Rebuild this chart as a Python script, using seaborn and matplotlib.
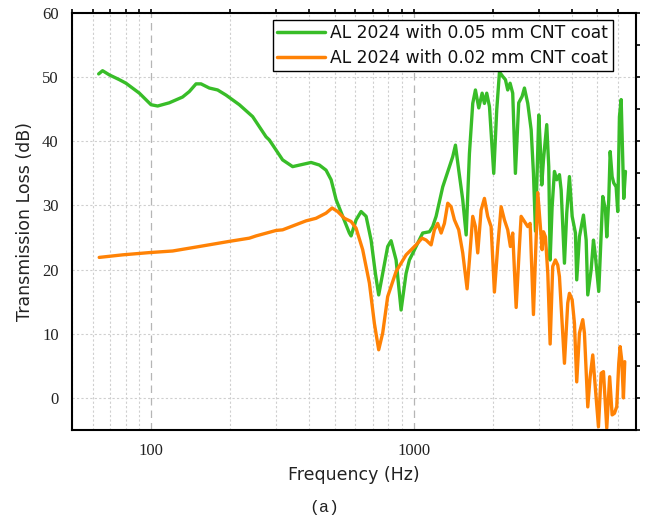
import numpy as np
import pandas as pd
import matplotlib
matplotlib.use("Agg")
import matplotlib.pyplot as plt
from matplotlib.ticker import FixedLocator, NullFormatter, FixedFormatter, MultipleLocator
import seaborn as sns

# Transmission loss of AL 2024 plates with two CNT coating thicknesses
freq_005 = [63.2, 65.4, 69.4, 75.8, 80.3, 90.3, 100, 106, 117.4, 131.9, 139.9, 148.4,
            155, 166.7, 179.3, 193, 216.9, 243.7, 274.1, 282.2, 317, 346.1, 406.8,
            437.4, 463.8, 484.9, 506.6, 536.7, 569, 577.6, 603.5, 630.6, 658.9, 688.4,
            714.8, 735.8, 762, 796.2, 820.2, 857, 895.4, 935.5, 963, 1021, 1082, 1148,
            1181, 1217, 1290, 1368, 1408, 1442, 1484, 1537, 1584, 1630, 1678, 1718,
            1769, 1822, 1859, 1897, 1943, 2017, 2071, 2121, 2183, 2235, 2280, 2328,
            2382, 2439, 2511, 2587, 2640, 2718, 2800, 2857, 2908, 2993, 3038, 3073,
            3119, 3210, 3267, 3307, 3365, 3434, 3504, 3588, 3642, 3749, 3825, 3916,
            4011, 4128, 4175, 4275, 4429, 4535, 4599, 4738, 4835, 4920, 5064, 5245,
            5370, 5432, 5528, 5597, 5694, 5775, 5897, 5981, 6071, 6163, 6250, 6305, 6400]
tl_005 = [50.5, 51.0, 50.35, 49.6, 49.05, 47.5, 45.7, 45.5, 46.0, 46.9, 47.75, 48.95,
          48.95, 48.3, 48.0, 47.2, 45.7, 43.85, 40.7, 40.2, 37.1, 36.05, 36.7,
          36.3, 35.5, 34.0, 30.9, 28.3, 25.7, 25.25, 27.75, 29.05, 28.3, 24.6,
          19.4, 16.05, 19.4, 23.6, 24.5, 21.5, 13.7, 19.4, 21.5, 23.6, 25.7, 25.9,
          26.7, 28.3, 32.9, 36.05, 37.6, 39.4, 35.5, 30.9, 25.4, 38.1, 45.9, 48.0,
          45.2, 47.5, 45.9, 47.5, 45.4, 35.0, 44.9, 50.8, 50.1, 49.6, 48.0, 49.05,
          47.5, 35.0, 46.0, 47.0, 48.3, 45.9, 41.8, 35.0, 26.0, 44.1, 38.7, 33.2,
          37.1, 42.6, 36.05, 21.5, 29.8, 35.3, 34.0, 34.8, 32.4, 21.0, 28.8, 34.5,
          28.3, 25.7, 18.4, 25.1, 28.5, 24.6, 16.05, 20.0, 24.6, 22.0, 16.6, 31.4,
          29.3, 25.1, 30.9, 38.4, 34.5, 33.5, 32.9, 29.05, 43.85, 46.5, 37.1, 31.1, 35.3]

freq_002 = [63.5, 78, 98.5, 120.9, 152.7, 198.7, 236.8, 251.1, 299.2, 317, 336.2,
            389.3, 424.9, 463.8, 489.1, 513.7, 544.6, 577.6, 603.5, 639.5, 678.2,
            708.6, 735.8, 762, 796.2, 857, 935.5, 1021, 1076, 1115, 1165, 1199, 1234,
            1272, 1309, 1348, 1388, 1429, 1484, 1537, 1597, 1630, 1678, 1718, 1753,
            1806, 1859, 1913, 1971, 2029, 2089, 2152, 2215, 2280, 2334, 2382, 2455,
            2526, 2564, 2640, 2718, 2775, 2857, 2967, 3083, 3119, 3174, 3240, 3307,
            3383, 3464, 3535, 3588, 3749, 3859, 3916, 4011, 4093, 4175, 4275, 4402,
            4467, 4599, 4696, 4805, 4877, 5051, 5172, 5277, 5432, 5572, 5694, 5811,
            5929, 6034, 6109, 6194, 6287, 6360]
tl_002 = [21.9, 22.3, 22.65, 22.9, 23.6, 24.4, 24.9, 25.25, 26.1, 26.2, 26.6,
          27.6, 28.0, 28.8, 29.6, 29.05, 28.0, 27.5, 26.45, 23.1, 17.9,
          11.6, 7.5, 10.1, 15.8, 19.7, 22.3, 23.85, 24.9, 24.6, 23.85, 26.2, 27.2,
          25.7, 27.2, 30.35, 29.8, 27.75, 26.2, 22.6, 17.0, 21.5, 28.3, 26.7, 22.6,
          29.3, 31.1, 28.3, 26.7, 16.5, 23.6, 29.8, 27.75, 26.2, 23.6, 25.7, 14.1,
          23.6, 28.3, 27.5, 26.7, 27.2, 13.0, 32.0, 23.1, 25.9, 25.1, 19.4, 8.4,
          20.5, 21.5, 20.7, 18.9, 5.4, 14.8, 16.3, 15.3, 11.6, 2.5, 10.1, 12.2,
          10.1, -1.4, 3.3, 6.7, 3.3, -4.5, 3.85, 4.1, -4.7, 3.3, -2.65, -2.4,
          -1.35, 5.4, 8.0, 5.9, 0.0, 5.65]

series_names = ["AL 2024 with 0.05 mm CNT coat", "AL 2024 with 0.02 mm CNT coat"]
series_colors = ["#38BD28", "#FF8205"]

x_major = [100, 1000]
x_major_labels = ["100", "1000"]
x_minor = [50, 60, 70, 80, 90, 200, 300, 400, 500, 600, 700, 800, 900,
           2000, 3000, 4000, 5000, 6000]
y_major = [0, 10, 20, 30, 40, 50, 60]

df = pd.concat([
    pd.DataFrame({"freq": freq_005, "tl": tl_005, "series": series_names[0]}),
    pd.DataFrame({"freq": freq_002, "tl": tl_002, "series": series_names[1]}),
], ignore_index=True)

sns.set_theme(style="white")
plt.rcParams["font.family"] = ["DejaVu Sans"]

fig = plt.figure(figsize=(6.48, 5.19), dpi=100)
ax = fig.add_axes([0.111, 0.1715, 0.870, 0.8035])

sns.lineplot(data=df, x="freq", y="tl", hue="series", hue_order=series_names,
             palette=series_colors, estimator=None, sort=False, linewidth=2.4,
             ax=ax)

ax.set_xscale("log")
ax.set_xlim(50, 7000)
ax.set_ylim(-5, 60)

ax.xaxis.set_major_locator(FixedLocator(x_major))
ax.xaxis.set_major_formatter(FixedFormatter(x_major_labels))
ax.xaxis.set_minor_locator(FixedLocator(x_minor))
ax.xaxis.set_minor_formatter(NullFormatter())
ax.yaxis.set_major_locator(FixedLocator(y_major))
ax.yaxis.set_minor_locator(MultipleLocator(5))

# grid: dashed at decades, dotted elsewhere
ax.grid(which="major", axis="x", color="#b5b5b5", linestyle=(0, (6, 4)), linewidth=0.9)
ax.grid(which="minor", axis="x", color="#cfcfcf", linestyle=(0, (2, 2)), linewidth=0.8)
ax.grid(which="major", axis="y", color="#cfcfcf", linestyle=(0, (2, 2)), linewidth=0.8)
ax.set_axisbelow(True)

for side in ["left", "bottom", "top", "right"]:
    ax.spines[side].set_visible(True)
    ax.spines[side].set_color("black")
    ax.spines[side].set_linewidth(1.5)

ax.tick_params(which="both", direction="out", top=True, right=True,
               color="black", width=1.2)
ax.tick_params(which="major", length=6)
ax.tick_params(which="minor", length=3.5)
ax.tick_params(which="both", axis="x", top=True)
for t in ax.xaxis.get_major_ticks() + ax.xaxis.get_minor_ticks():
    t.tick2line.set_markersize(3)
for t in ax.yaxis.get_major_ticks() + ax.yaxis.get_minor_ticks():
    t.tick2line.set_markersize(3)
for lab in ax.get_xticklabels() + ax.get_yticklabels():
    lab.set_family("Liberation Serif")
    lab.set_fontsize(12)
    lab.set_color("#222222")

ax.set_xlabel("Frequency (Hz)", fontsize=12.5, color="#222222", labelpad=5)
ax.set_ylabel("Transmission Loss (dB)", fontsize=12.5, color="#222222", labelpad=6)

leg = ax.legend(loc="upper right", bbox_to_anchor=(0.959, 0.983), fontsize=12.3,
                frameon=True, fancybox=False, handlelength=2.8, handletextpad=0.3,
                borderpad=0.25, labelspacing=0.38, borderaxespad=0.0)
leg.get_frame().set_edgecolor("black")
leg.get_frame().set_linewidth(1.0)
leg.get_frame().set_alpha(1)
for line in leg.get_lines():
    line.set_linewidth(2.5)
for txt in leg.get_texts():
    txt.set_color("#111111")

fig.text(0.5, 0.023, "(a)", ha="center", va="center", fontsize=12,
         family="Liberation Mono", color="#222222")

fig.savefig("out.png", dpi=100, facecolor="white")
